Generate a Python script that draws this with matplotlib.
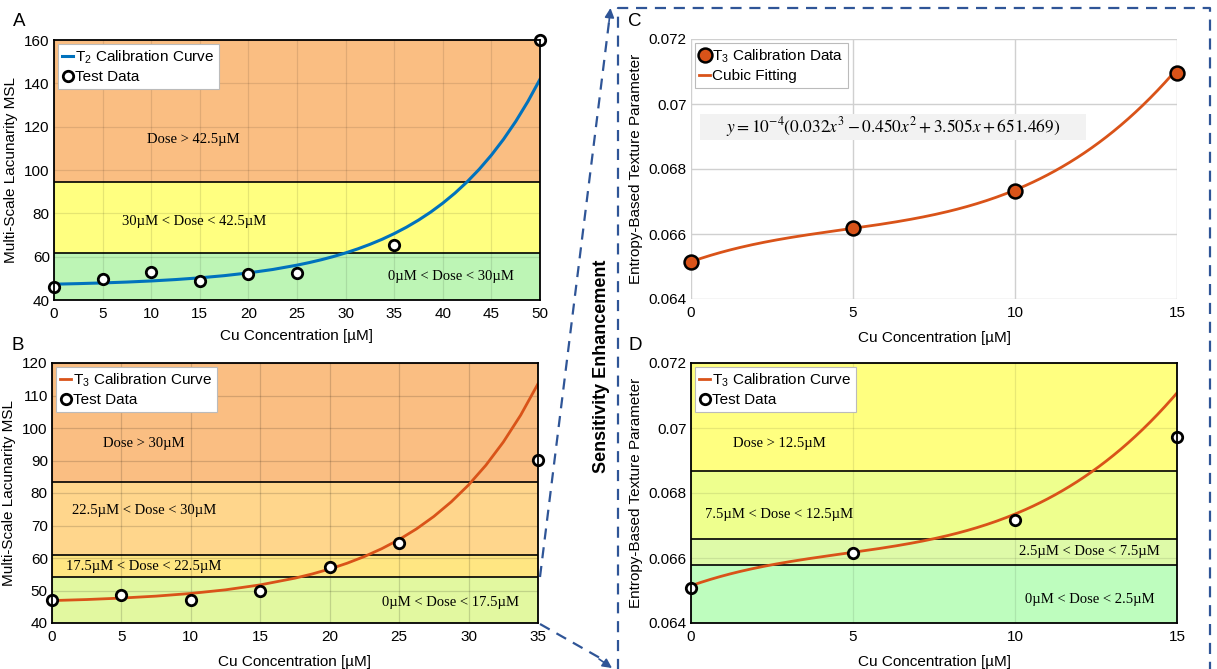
import numpy as np
import matplotlib
matplotlib.use("Agg")
import matplotlib.pyplot as plt

plt.rcParams['font.family'] = ['Liberation Sans', 'DejaVu Sans']
plt.rcParams['mathtext.fontset'] = 'custom'
plt.rcParams['mathtext.rm'] = 'Liberation Sans'
plt.rcParams['mathtext.it'] = 'Liberation Sans:italic'

# ---------------- data ----------------
# Panel A (T2)
a_test_x = [0, 5, 10, 15, 20, 25, 35, 50]
a_test_y = [46.2, 49.9, 52.8, 48.6, 52.2, 52.5, 65.5, 160.0]
a_curve_x = [0, 2.5, 5, 7.5, 10, 12.5, 15, 17.5, 20, 22.5, 25, 26.25, 27.5, 28.75,
             30, 31.25, 32.5, 33.75, 35, 36.25, 37.5, 38.75, 40, 41.25, 42.5,
             43.75, 45, 46.25, 47.5, 48.75, 50]
a_curve_y = [47.3, 47.56, 47.88, 48.28, 48.79, 49.43, 50.23, 51.23, 52.50, 54.08,
             56.08, 57.26, 58.58, 60.06, 61.73, 63.59, 65.68, 68.01, 70.64, 73.57,
             76.87, 80.56, 84.70, 89.33, 94.53, 100.35, 106.88, 114.20, 122.40,
             131.59, 141.88]
a_bands = [40, 61.6, 94.6, 160]
a_band_labels = ['0µM < Dose < 30µM', '30µM < Dose < 42.5µM', 'Dose > 42.5µM']

# Panel B (T3)
b_test_x = [0, 5, 10, 15, 20, 25, 35]
b_test_y = [47.2, 48.7, 47.2, 49.7, 57.2, 64.7, 90.3]
b_curve_x = [0, 2.5, 5, 7.5, 10, 12.5, 15, 17.5, 18.75, 20, 21.25, 22.5, 23.75,
             25, 26.25, 27.5, 28.75, 30, 31.25, 32.5, 33.75, 35]
b_curve_y = [46.90, 47.22, 47.67, 48.27, 49.09, 50.21, 51.73, 53.80, 55.10, 56.62,
             58.39, 60.46, 62.87, 65.68, 68.96, 72.79, 77.27, 82.48, 88.56, 95.66,
             103.94, 113.61]
b_bands = [40, 54.2, 60.9, 83.3, 120]
b_band_labels = ['0µM < Dose < 17.5µM', '17.5µM < Dose < 22.5µM',
                 '22.5µM < Dose < 30µM', 'Dose > 30µM']

# Panel C (T3 calibration data + cubic fit shown in the chart)
c_data_x = [0, 5, 10, 15]
c_data_y = [0.06514, 0.06617, 0.06731, 0.07095]
c_fit_coeffs = [0.032, -0.450, 3.505, 651.469]   # times 1e-4, as printed
c_fit_scale = 1e-4

# Panel D (T3 calibration curve + test data)
d_test_x = [0, 5, 10, 15]
d_test_y = [0.06508, 0.06614, 0.06718, 0.06971]
d_bands = [0.064, 0.06579, 0.06659, 0.06868, 0.072]
d_band_labels = ['0µM < Dose < 2.5µM', '2.5µM < Dose < 7.5µM',
                 '7.5µM < Dose < 12.5µM', 'Dose > 12.5µM']

BLUE = '#0072BD'
RED = '#D95319'
ORANGE_BAND = '#FABE82'
FS = 11

W, H = 1217, 669
fig = plt.figure(figsize=(W / 100, H / 100), dpi=100)


def px_axes(x0, y0, x1, y1):
    return fig.add_axes([x0 / W, 1 - y1 / H, (x1 - x0) / W, (y1 - y0) / H])


axA = px_axes(54, 40, 540, 300)
axB = px_axes(52, 363, 538, 623)
axC = px_axes(691, 39, 1177, 299)
axD = px_axes(691, 363, 1177, 623)

test_kw = dict(ls='none', marker='o', mfc='white', mec='black', ms=7.5, mew=2.0,
               zorder=6, clip_on=False)
band_font = dict(family=['Liberation Serif', 'DejaVu Serif'], fontsize=10.5,
                 ha='center', va='center', zorder=3)


def style_axes(ax, frame=True):
    ax.tick_params(length=0, labelsize=FS, pad=5)
    ax.tick_params(axis='y', pad=3)
    for s in ax.spines.values():
        s.set_visible(frame)
        s.set_linewidth(1.3)
        s.set_color('black')
        s.set_zorder(7)


def draw_bands(ax, edges, colors):
    for lo, hi, c in zip(edges[:-1], edges[1:], colors):
        ax.axhspan(lo, hi, color=c, lw=0, zorder=0.5)
    for e in edges[1:-1]:
        ax.axhline(e, color='black', lw=1.2, zorder=2)


def legend(ax):
    lg = ax.legend(loc='upper left', bbox_to_anchor=(0, 1), borderaxespad=0.25,
                   fontsize=FS, handlelength=0.7, handletextpad=0.15,
                   borderpad=0.3, labelspacing=0.3, fancybox=False,
                   framealpha=1, edgecolor='#BBBBBB')
    lg.get_frame().set_linewidth(0.8)
    lg.set_zorder(8)
    return lg


def fit_curve(xmax):
    xs = np.linspace(0, xmax, 200)
    return xs, np.polyval(c_fit_coeffs, xs) * c_fit_scale


# ---------- Panel A ----------
ax = axA
draw_bands(ax, a_bands, ['#BDF5B5', '#FFFF80', ORANGE_BAND])
ax.set_xlim(0, 50)
ax.set_ylim(40, 160)
ax.set_xticks(range(0, 51, 5))
ax.set_yticks(range(40, 161, 20))
ax.set_axisbelow(False)
ax.grid(True, color='black', alpha=0.10, lw=0.9)
ax.plot(a_curve_x, a_curve_y, color=BLUE, lw=2.2, zorder=5,
        solid_joinstyle='round', label='T$_2$ Calibration Curve')
ax.plot(a_test_x, a_test_y, label='Test Data', **test_kw)
ax.text(14.3, 114.3, a_band_labels[2], **band_font)
ax.text(14.4, 76.1, a_band_labels[1], **band_font)
ax.text(40.8, 50.8, a_band_labels[0], **band_font)
ax.set_ylabel('Multi-Scale Lacunarity MSL', fontsize=FS)
ax.set_xlabel('Cu Concentration [µM]', fontsize=FS)
ax.yaxis.set_label_coords(-0.074, 0.5)
ax.xaxis.set_label_coords(0.5, -0.112)
style_axes(ax)
legend(ax)

# ---------- Panel B ----------
ax = axB
draw_bands(ax, b_bands, ['#E2F8A0', '#FFE682', '#FFD68C', ORANGE_BAND])
ax.set_xlim(0, 35)
ax.set_ylim(40, 120)
ax.set_xticks(range(0, 36, 5))
ax.set_yticks(range(40, 121, 10))
ax.set_axisbelow(False)
ax.grid(True, color='black', alpha=0.15, lw=0.9)
ax.plot(b_curve_x, b_curve_y, color=RED, lw=2.0, zorder=5,
        solid_joinstyle='round', label='T$_3$ Calibration Curve')
ax.plot(b_test_x, b_test_y, label='Test Data', **test_kw)
ax.text(6.6, 95.1, b_band_labels[3], **band_font)
ax.text(6.6, 74.6, b_band_labels[2], **band_font)
ax.text(6.6, 57.5, b_band_labels[1], **band_font)
ax.text(28.7, 46.2, b_band_labels[0], **band_font)
ax.set_ylabel('Multi-Scale Lacunarity MSL', fontsize=FS)
ax.set_xlabel('Cu Concentration [µM]', fontsize=FS)
ax.yaxis.set_label_coords(-0.074, 0.5)
ax.xaxis.set_label_coords(0.5, -0.123)
style_axes(ax)
legend(ax)

# ---------- Panel C ----------
ax = axC
ax.set_xlim(0, 15)
ax.set_ylim(0.064, 0.072)
ax.set_xticks([0, 5, 10, 15])
ax.set_yticks([0.064, 0.066, 0.068, 0.070, 0.072])
ax.set_yticklabels(['0.064', '0.066', '0.068', '0.07', '0.072'])
ax.grid(True, color='#D0D0D0', lw=1.0)
ax.set_axisbelow(True)
ax.plot(c_data_x, c_data_y, ls='none', marker='o', mfc=RED, mec='black', ms=10,
        mew=1.8, zorder=6, clip_on=False, label='T$_3$ Calibration Data')
cx, cy = fit_curve(15)
ax.plot(cx, cy, color=RED, lw=2.0, zorder=5, label='Cubic Fitting')
ax.axhspan(0.068892, 0.069692, xmin=0.28 / 15, xmax=12.19 / 15, color='#F2F2F2',
           lw=0, zorder=2)
ax.text(6.23, 0.06929, r'$y = 10^{-4}(0.032x^3 - 0.450x^2 + 3.505x + 651.469)$',
        fontsize=12.5, ha='center', va='center', math_fontfamily='stix', zorder=3)
ax.set_ylabel('Entropy-Based Texture Parameter', fontsize=FS)
ax.set_xlabel('Cu Concentration [µM]', fontsize=FS)
ax.yaxis.set_label_coords(-0.099, 0.5)
ax.xaxis.set_label_coords(0.5, -0.123)
style_axes(ax, frame=False)
legend(ax)

# ---------- Panel D ----------
ax = axD
draw_bands(ax, d_bands, ['#BEFDBE', '#DEFAA8', '#EEFF8E', '#FFFF80'])
ax.set_xlim(0, 15)
ax.set_ylim(0.064, 0.072)
ax.set_xticks([0, 5, 10, 15])
ax.set_yticks([0.064, 0.066, 0.068, 0.070, 0.072])
ax.set_yticklabels(['0.064', '0.066', '0.068', '0.07', '0.072'])
ax.set_axisbelow(False)
ax.grid(True, color='black', alpha=0.09, lw=0.9)
ax.plot(cx, cy, color=RED, lw=2.0, zorder=5, label='T$_3$ Calibration Curve')
ax.plot(d_test_x, d_test_y, label='Test Data', **test_kw)
ax.text(2.73, 0.069508, d_band_labels[3], **band_font)
ax.text(2.73, 0.067345, d_band_labels[2], **band_font)
ax.text(12.31, 0.066215, d_band_labels[1], **band_font)
ax.text(12.31, 0.064708, d_band_labels[0], **band_font)
ax.set_ylabel('Entropy-Based Texture Parameter', fontsize=FS)
ax.set_xlabel('Cu Concentration [µM]', fontsize=FS)
ax.yaxis.set_label_coords(-0.099, 0.5)
ax.xaxis.set_label_coords(0.5, -0.123)
style_axes(ax)
legend(ax)

# ---------- overlay: panel letters, dashed box, arrows ----------
ov = fig.add_axes([0, 0, 1, 1], zorder=20)
ov.set_xlim(0, W)
ov.set_ylim(H, 0)
ov.axis('off')
ov.patch.set_alpha(0)

for letter, (x, y) in zip('ABCD', [(19, 21), (18, 346), (635, 21), (635, 346)]):
    ov.text(x, y, letter, fontsize=13.5, ha='center', va='center')

ov.text(602, 366, 'Sensitivity Enhancement', rotation=90, fontsize=13,
        fontweight='bold', ha='center', va='center')

DASH = '#2F5597'
dash_kw = dict(color=DASH, lw=1.6, dashes=(5, 3.5))
ov.plot([618, 618, 1210, 1210], [H + 5, 8, 8, H + 5], **dash_kw)
ov.plot([540, 609], [577, 22], **dash_kw)
ov.annotate('', xy=(610.5, 8), xytext=(609, 22),
            arrowprops=dict(arrowstyle='-|>', color=DASH, lw=1.2, mutation_scale=14,
                            shrinkA=0, shrinkB=0))
ov.plot([540, 600], [624, 658], **dash_kw)
ov.annotate('', xy=(612, 668), xytext=(599, 659),
            arrowprops=dict(arrowstyle='-|>', color=DASH, lw=1.2, mutation_scale=14,
                            shrinkA=0, shrinkB=0))

fig.savefig('out.png', dpi=100)
